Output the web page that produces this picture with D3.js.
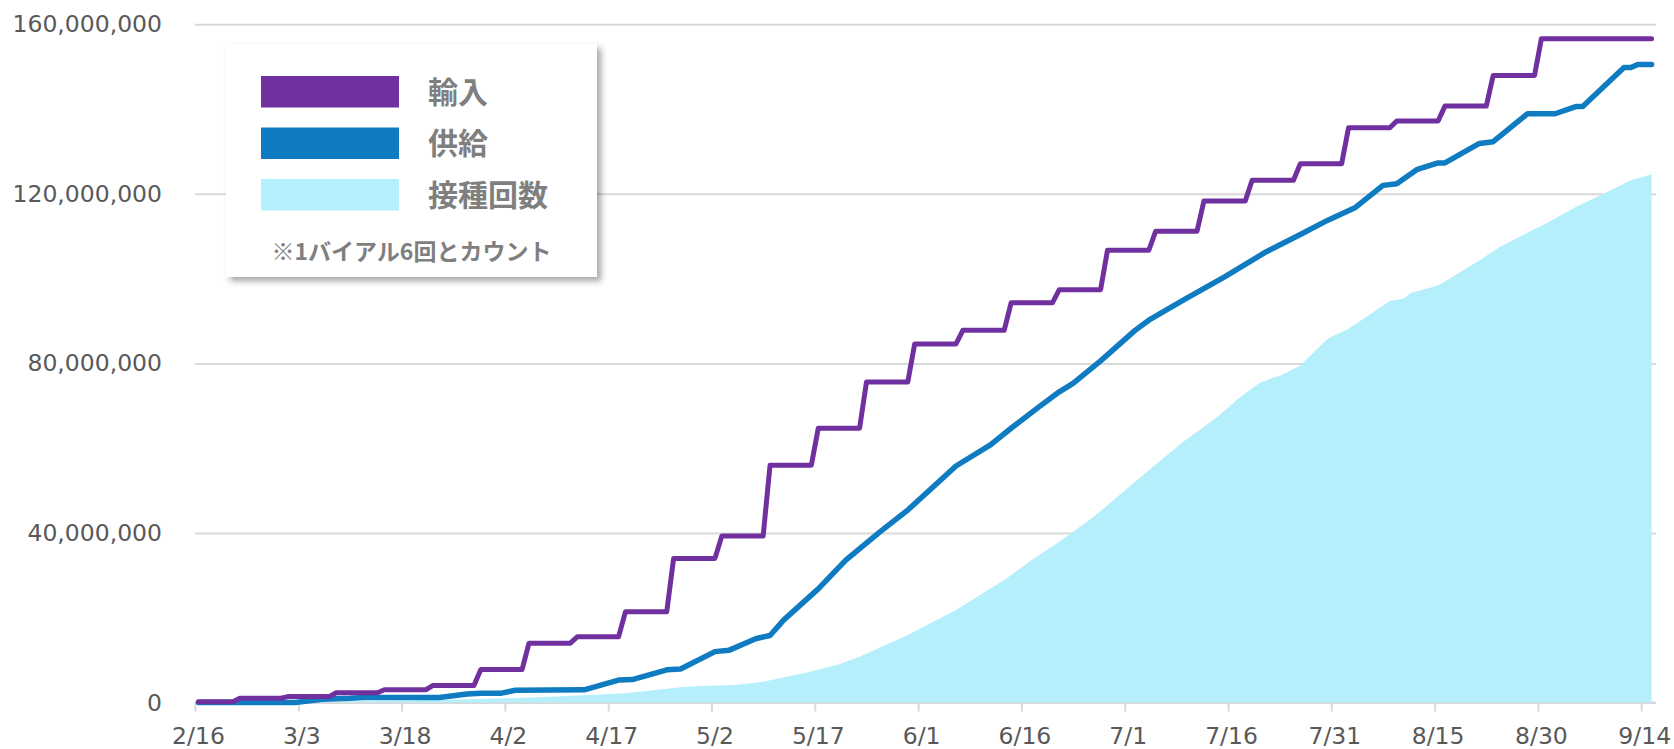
<!DOCTYPE html>
<html>
<head>
<meta charset="utf-8">
<script src="https://cdn.jsdelivr.net/npm/d3@7"></script>
<style>
  body { margin: 0; background: #fff; }
  .yLabel, .xLabel { font-family: "DejaVu Sans", Verdana, sans-serif; font-size: 23.5px; fill: #595959; }
  .legendText { font-family: "Noto Sans CJK JP", sans-serif; font-weight: bold; fill: #7f7f7f; }
</style>
</head>
<body>
<div id="chart"></div>
<script>
var svgWidth = 1674;
var svgHeight = 749;

// x axis tick labels (every 15 days)
var tickLabels = ["2/16", "3/3", "3/18", "4/2", "4/17", "5/2", "5/17", "6/1", "6/16", "7/1", "7/16", "7/31", "8/15", "8/30", "9/14"];
var yTicks = [0, 40000000, 80000000, 120000000, 160000000];
var firstDay = "2/16";
var lastDay = "9/15";

// 輸入 (imports): date of each delivery step and cumulative total
var importDates = ["2/16", "2/22", "3/1", "3/8", "3/15", "3/22", "3/29", "4/5", "4/12", "4/19", "4/26", "5/3", "5/10", "5/17", "5/24", "5/31", "6/7", "6/14", "6/21", "6/28", "7/5", "7/12", "7/19", "7/26", "8/2", "8/9", "8/16", "8/23", "8/30"];
var importValues = [200000, 1000000, 1400000, 2300000, 3000000, 4000000, 7800000, 14000000, 15500000, 21400000, 34000000, 39300000, 56000000, 64700000, 75600000, 84600000, 87800000, 94300000, 97400000, 106700000, 111200000, 118300000, 123200000, 127100000, 135600000, 137200000, 140700000, 147900000, 156600000];

// 供給 (supply)
var supplyDates = ["2/16", "3/2", "3/6", "3/10", "3/12", "3/23", "3/27", "3/29", "4/1", "4/3", "4/13", "4/18", "4/20", "4/25", "4/27", "5/2", "5/4", "5/8", "5/10", "5/12", "5/17", "5/21", "5/26", "5/30", "6/6", "6/11", "6/14", "6/18", "6/21", "6/23", "6/27", "7/2", "7/4", "7/9", "7/15", "7/21", "7/26", "7/30", "8/3", "8/7", "8/9", "8/12", "8/15", "8/16", "8/21", "8/23", "8/28", "9/1", "9/4", "9/5", "9/11", "9/12", "9/13", "9/15"];
var supplyValues = [0, 0, 750000, 1000000, 1200000, 1200000, 2000000, 2200000, 2200000, 2900000, 3000000, 5300000, 5400000, 7700000, 7900000, 12000000, 12300000, 15100000, 15800000, 19500000, 26800000, 33600000, 40300000, 45400000, 55800000, 60800000, 64700000, 69700000, 73300000, 75300000, 80600000, 87800000, 90200000, 94900000, 100400000, 106300000, 110400000, 113800000, 116800000, 122000000, 122400000, 125800000, 127300000, 127300000, 131900000, 132300000, 138900000, 138900000, 140600000, 140600000, 149800000, 149800000, 150500000, 150500000];

// 接種回数 (doses administered)
var shotDates = ["2/16", "2/26", "3/8", "3/23", "4/2", "4/9", "4/19", "4/27", "4/30", "5/5", "5/9", "5/16", "5/20", "5/23", "5/30", "6/6", "6/11", "6/13", "6/17", "6/21", "6/26", "6/30", "7/4", "7/9", "7/14", "7/17", "7/20", "7/22", "7/23", "7/26", "7/30", "8/2", "8/8", "8/10", "8/11", "8/15", "8/21", "8/24", "8/29", "8/30", "9/4", "9/9", "9/12", "9/15"];
var shotValues = [0, 100000, 200000, 600000, 1000000, 1400000, 2200000, 3600000, 3900000, 4100000, 4900000, 7300000, 9000000, 10800000, 15900000, 21800000, 26900000, 28900000, 33600000, 37900000, 43800000, 49300000, 54800000, 61500000, 67400000, 71700000, 75300000, 76600000, 77000000, 79500000, 85900000, 88200000, 94700000, 95300000, 96600000, 98400000, 104300000, 107500000, 111700000, 112400000, 116900000, 120800000, 123200000, 124600000];

var legendItems = [
    { label: "輸入", color: "#7030A0" },
    { label: "供給", color: "#0F7BC1" },
    { label: "接種回数", color: "#B5EFFC" }
];
var legendNote = "※1バイアル6回とカウント";

var parseDay = function(s) {
    var p = s.split("/").map(Number);
    return new Date(2021, p[0] - 1, p[1]);
};

var svg = d3.select("#chart")
    .append("svg")
    .attr("width", svgWidth)
    .attr("height", svgHeight);

// Scales: each date is a band, points sit in the middle of the band
var xScale = d3.scaleTime()
    .domain([parseDay(firstDay), d3.timeDay.offset(parseDay(lastDay), 1)])
    .range([195, 1655]);
var yScale = d3.scaleLinear()
    .domain([0, 160000000])
    .range([702.5, 24.3]);
var xMid = function(s) { return xScale(d3.timeHour.offset(parseDay(s), 12)); };

// Grid + y labels
var yAxis = d3.axisLeft(yScale)
    .tickValues(yTicks)
    .tickSize(-(1656 - 195))
    .tickPadding(33)
    .tickFormat(d3.format(","));
var yG = svg.append("g")
    .attr("transform", "translate(195,0)")
    .call(yAxis);
yG.select(".domain").remove();
yG.selectAll(".tick line").attr("stroke", "#d9d9d9").attr("stroke-width", 2);
yG.selectAll(".tick text").attr("class", "yLabel").attr("fill", null).style("font-size", null);

// x axis
var xAxis = d3.axisBottom(xScale)
    .tickValues(tickLabels.map(parseDay))
    .tickSize(9)
    .tickSizeOuter(0)
    .tickPadding(16)
    .tickFormat(d3.timeFormat("%-m/%-d"));
var xG = svg.append("g")
    .attr("transform", "translate(0," + yScale(0) + ")")
    .call(xAxis);
xG.select(".domain").attr("stroke", "#d9d9d9").attr("stroke-width", 2).attr("d", "M195,0H1656");
xG.selectAll(".tick line").attr("stroke", "#d9d9d9").attr("stroke-width", 2);
xG.selectAll(".tick text").attr("class", "xLabel").attr("fill", null).style("font-size", null).attr("dx", 3);

// Area: doses administered
var shotData = shotDates.map(function(d, i) { return { d: d, v: shotValues[i] }; });
var area = d3.area()
    .x(function(d) { return xMid(d.d); })
    .y0(yScale(0))
    .y1(function(d) { return yScale(d.v); });
svg.append("path")
    .datum(shotData)
    .attr("fill", legendItems[2].color)
    .attr("d", area);

var line = d3.line()
    .x(function(d) { return xMid(d.d); })
    .y(function(d) { return yScale(d.v); });

// Supply line
var supplyData = supplyDates.map(function(d, i) { return { d: d, v: supplyValues[i] }; });
svg.append("path")
    .datum(supplyData)
    .attr("fill", "none")
    .attr("stroke", legendItems[1].color)
    .attr("stroke-width", 5.5)
    .attr("stroke-linejoin", "round")
    .attr("stroke-linecap", "round")
    .attr("d", line);

// Import line: each delivery holds until the day before the next one
var importData = [];
importDates.forEach(function(d, i) {
    importData.push({ d: d, v: importValues[i] });
    var until = i < importDates.length - 1
        ? d3.timeFormat("%-m/%-d")(d3.timeDay.offset(parseDay(importDates[i + 1]), -1))
        : lastDay;
    importData.push({ d: until, v: importValues[i] });
});
svg.append("path")
    .datum(importData)
    .attr("fill", "none")
    .attr("stroke", legendItems[0].color)
    .attr("stroke-width", 5)
    .attr("stroke-linejoin", "round")
    .attr("stroke-linecap", "round")
    .attr("d", line);

// Legend
var defs = svg.append("defs");
defs.append("filter")
    .attr("id", "shadow")
    .attr("x", "-10%").attr("y", "-10%").attr("width", "130%").attr("height", "130%")
    .append("feDropShadow")
    .attr("dx", 4).attr("dy", 4)
    .attr("stdDeviation", 3)
    .attr("flood-color", "#000")
    .attr("flood-opacity", 0.35);

var legend = svg.append("g").attr("transform", "translate(226,44)");
legend.append("rect")
    .attr("width", 371)
    .attr("height", 233)
    .attr("fill", "#fff")
    .attr("filter", "url(#shadow)");
legendItems.forEach(function(item, i) {
    var y = 32 + i * 51.5;
    legend.append("rect")
        .attr("x", 35).attr("y", y)
        .attr("width", 138).attr("height", 31.5)
        .attr("fill", item.color);
    legend.append("text")
        .attr("class", "legendText")
        .attr("x", 202)
        .attr("y", y + 16)
        .attr("dy", "0.36em")
        .style("font-size", "30px")
        .text(item.label);
});
legend.append("text")
    .attr("class", "legendText")
    .attr("x", 185.5)
    .attr("y", 207.7)
    .attr("dy", "0.36em")
    .attr("text-anchor", "middle")
    .style("font-size", "23px")
    .text(legendNote);
</script>
</body>
</html>
